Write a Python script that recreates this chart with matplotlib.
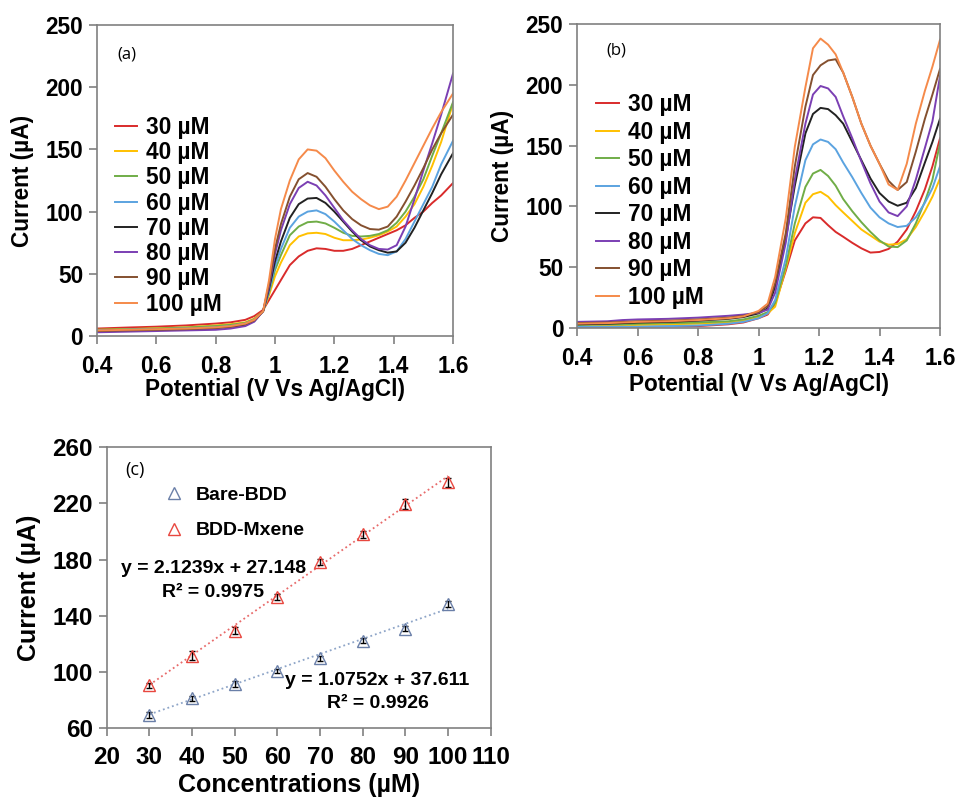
import numpy as np
import matplotlib
matplotlib.use('Agg')
import matplotlib.pyplot as plt

plt.rcParams['font.family'] = ['Liberation Sans', 'DejaVu Sans']
plt.rcParams['font.weight'] = 'bold'

# ---------- данные: панель (a) ----------
labels = ['30 µM', '40 µM', '50 µM', '60 µM', '70 µM', '80 µM', '90 µM', '100 µM']
colors = ['#d92b2b', '#ffc000', '#70ad47', '#5ba3e0', '#222222', '#7b3fb3', '#84502f', '#f58a4a']

xa = [0.40, 0.50, 0.60, 0.70, 0.80, 0.85, 0.90, 0.93, 0.96, 0.98, 1.00, 1.02, 1.05, 1.08, 1.11,
      1.14, 1.17, 1.20, 1.23, 1.26, 1.29, 1.32, 1.35, 1.38, 1.41, 1.44, 1.47, 1.50, 1.53, 1.56, 1.60]

a_30 = [6, 6.8, 7.5, 8.5, 10, 11, 13, 16, 21, 29, 37, 45, 57, 64, 68.5,
        70.5, 70, 68.5, 68.5, 70, 73, 76, 79, 82, 85, 89, 95, 100, 107, 113, 123]
a_40 = [5, 5.5, 6.2, 7, 8.5, 9.5, 11, 14, 20, 33, 48, 59, 73, 80, 82.5,
        83, 82, 79, 77, 77, 77.5, 79, 81, 84, 88, 96, 106, 120, 137, 156, 187]
a_50 = [5, 5.5, 6, 6.8, 8, 9, 10.5, 13.5, 20, 35, 53, 65, 81, 88, 91.5,
        92, 90.5, 87, 83, 80.5, 80, 80.5, 82, 85, 91, 100, 112, 126, 145, 163, 188]
a_60 = [4.5, 5, 5.5, 6, 7, 8, 10, 13, 20, 36, 56, 70, 87, 96, 100,
        101, 98, 92, 85, 78, 73, 69, 66, 65, 68, 78, 92, 106, 120, 138, 157]
a_70 = [4, 4.5, 5, 5.5, 6.5, 7.5, 9, 12, 20, 38, 60, 76, 95, 106, 110.5,
        111, 107, 100, 92, 84, 77, 72, 69, 67, 68, 75, 87, 101, 115, 130, 147]
a_80 = [3, 3.5, 4, 4.5, 5, 6, 8, 11.5, 20, 40, 66, 85, 106, 119, 124,
        121, 113, 103, 93, 85, 78, 73, 70, 69.5, 73, 88, 110, 133, 155, 178, 211]
a_90 = [4, 4.5, 5, 5.5, 6.5, 7.5, 9.5, 12.5, 20, 42, 70, 90, 112, 126, 131,
        128, 120, 110, 101, 94, 89, 86, 85.5, 88, 96, 108, 121, 135, 150, 163, 178]
a_100 = [4.5, 5, 5.5, 6, 7, 8, 10, 13, 20, 45, 78, 102, 125, 142, 150,
         149, 143, 133, 124, 116, 110, 105, 102, 104, 112, 125, 139, 153, 167, 180, 195]

# ---------- данные: панель (b) ----------
xb = [0.40, 0.50, 0.55, 0.60, 0.70, 0.80, 0.90, 0.95, 1.00, 1.03, 1.055, 1.09, 1.12, 1.155, 1.18,
      1.205, 1.23, 1.255, 1.28, 1.31, 1.34, 1.37, 1.40, 1.43, 1.46, 1.49, 1.52, 1.55, 1.575, 1.60]

b_30 = [1, 1, 1, 1, 1.2, 1.5, 3, 4.5, 8, 11, 20, 47, 72, 86, 91,
        90.5, 84.5, 79, 75, 70, 65.5, 62, 62.5, 65, 71, 81, 96, 114, 133, 156]
b_40 = [2, 2, 2, 2.5, 3, 3.5, 4.5, 6, 9, 12, 17.5, 49, 78, 103, 110,
        112, 108, 101, 95, 88, 81, 76, 71, 68.5, 69, 73, 83, 96, 108, 123]
b_50 = [2.5, 3, 3, 3.5, 4, 4.5, 5.5, 7, 10, 13, 20.5, 51, 86, 116, 127,
        130, 125, 117, 106, 96, 87, 79, 72, 67, 66.5, 72, 86, 104, 122, 152]
b_60 = [1, 1, 1, 1, 1.5, 2, 3.5, 5, 8, 12, 23, 57, 100, 138, 151,
        155, 153, 147, 136, 124, 111, 99, 91, 86, 83, 84, 91, 103, 115, 133]
b_70 = [3, 3.5, 4, 4.5, 5, 6, 7.5, 9, 12, 16, 34, 73, 117, 160, 176,
        181, 180, 175, 168, 153, 138, 123, 111, 104, 100.5, 103, 115, 136, 153, 172]
b_80 = [5, 5.5, 6.5, 7, 7.5, 8.5, 10, 11, 12.5, 15, 29, 70, 122, 168, 192,
        199, 197, 190, 174, 156, 137, 119, 104, 95, 92, 100, 122, 148, 170, 207]
b_90 = [4, 4.5, 5, 5.5, 6, 7, 8.5, 10, 13, 18, 37, 78, 133, 182, 208,
        216, 220, 221, 210, 190, 168, 150, 135, 121, 113.5, 120, 145, 172, 192, 213]
b_100 = [3.5, 4, 4.5, 5, 5.5, 6.5, 8, 9.5, 14, 20, 42, 90, 149, 198, 230,
         238, 233, 225, 210, 190, 168, 150, 135, 118, 113.5, 135, 168, 195, 215, 237]

# ---------- данные: панель (c) ----------
conc = [30, 40, 50, 60, 70, 80, 90, 100]
bare_bdd = [69.5, 81.3, 91.5, 101, 109.8, 122.4, 131, 148.5]
bare_err = [2, 2, 2, 1.5, 2, 2, 2, 2]
bdd_mxene = [90.5, 111.8, 129.5, 153.5, 178.5, 198, 219.8, 235]
mxene_err = [2, 3, 2.5, 2, 2, 2.5, 3.5, 3]
fit_bare = (1.0752, 37.611)
fit_mxene = (2.1239, 27.148)

SPINE = '#808080'


def style_axes(ax, fs, xpad):
    for s in ax.spines.values():
        s.set_color(SPINE)
        s.set_linewidth(1.2)
    ax.tick_params(direction='out', length=6, width=1.2, color=SPINE,
                   labelsize=fs, pad=4)
    ax.tick_params(axis='x', pad=xpad)
    for t in ax.get_xticklabels() + ax.get_yticklabels():
        t.set_fontweight('bold')


fig = plt.figure(figsize=(9.59, 7.97), dpi=100)

# ---------- (a) ----------
ax1 = fig.add_axes([0.1011, 0.5784, 0.3713, 0.3902])
for ys, c, lab in zip([a_30, a_40, a_50, a_60, a_70, a_80, a_90, a_100], colors, labels):
    ax1.plot(xa, ys, color=c, lw=1.4, label=lab)
ax1.set_xlim(0.4, 1.6)
ax1.set_ylim(0, 250)
ax1.set_xticks([0.4, 0.6, 0.8, 1.0, 1.2, 1.4, 1.6])
ax1.set_xticklabels(['0.4', '0.6', '0.8', '1', '1.2', '1.4', '1.6'])
ax1.set_yticks(range(0, 251, 50))
style_axes(ax1, 16.3, 8)
ax1.set_xlabel('Potential (V Vs Ag/AgCl)', fontsize=16.3, fontweight='bold', labelpad=0)
ax1.set_ylabel('Current (µA)', fontsize=16.3, fontweight='bold', labelpad=8)
ax1.text(0.5, 226, '(a)', fontsize=12, fontweight='normal', family='Open Sans',
         ha='center', va='center')
ax1.legend(loc='upper left', bbox_to_anchor=(0.05, 0.708), frameon=False,
           prop={'size': 16.3, 'weight': 'bold'}, handlelength=1.0,
           handletextpad=0.4, labelspacing=0.1, borderpad=0, borderaxespad=0)

# ---------- (b) ----------
ax2 = fig.add_axes([0.6017, 0.5885, 0.3785, 0.3814])
for ys, c, lab in zip([b_30, b_40, b_50, b_60, b_70, b_80, b_90, b_100], colors, labels):
    ax2.plot(xb, ys, color=c, lw=1.4, label=lab)
ax2.set_xlim(0.4, 1.6)
ax2.set_ylim(0, 250)
ax2.set_xticks([0.4, 0.6, 0.8, 1.0, 1.2, 1.4, 1.6])
ax2.set_xticklabels(['0.4', '0.6', '0.8', '1', '1.2', '1.4', '1.6'])
ax2.set_yticks(range(0, 251, 50))
style_axes(ax2, 16.3, 8)
ax2.set_xlabel('Potential (V Vs Ag/AgCl)', fontsize=16.3, fontweight='bold', labelpad=2)
ax2.set_ylabel('Current (µA)', fontsize=16.3, fontweight='bold', labelpad=8)
ax2.text(0.53, 228, '(b)', fontsize=12, fontweight='normal', family='Open Sans',
         ha='center', va='center')
ax2.legend(loc='upper left', bbox_to_anchor=(0.052, 0.773), frameon=False,
           prop={'size': 16.3, 'weight': 'bold'}, handlelength=1.0,
           handletextpad=0.4, labelspacing=0.2, borderpad=0, borderaxespad=0)

# ---------- (c) ----------
ax3 = fig.add_axes([0.1113, 0.0862, 0.4004, 0.3526])
xf = np.array([conc[0], conc[-1]])
ax3.plot(xf, fit_bare[0] * xf + fit_bare[1], ls=':', color='#8ea5c8', lw=1.3)
ax3.plot(xf, fit_mxene[0] * xf + fit_mxene[1], ls=':', color='#e86a6a', lw=1.3)
ax3.errorbar(conc, bare_bdd, yerr=bare_err, fmt='none', ecolor='black', elinewidth=1,
             capsize=2)
ax3.errorbar(conc, bdd_mxene, yerr=mxene_err, fmt='none', ecolor='black', elinewidth=1,
             capsize=2)
ax3.plot(conc, bare_bdd, ls='none', marker='^', ms=8, mfc='none', mec='#6a7fa8',
         mew=1.0, label='Bare-BDD')
ax3.plot(conc, bdd_mxene, ls='none', marker='^', ms=8, mfc='none', mec='#e8473f',
         mew=1.0, label='BDD-Mxene')
ax3.set_xlim(20, 110)
ax3.set_ylim(60, 260)
ax3.set_xticks(range(20, 111, 10))
ax3.set_yticks(range(60, 261, 40))
style_axes(ax3, 17.5, 7)
ax3.set_xlabel('Concentrations (µM)', fontsize=18, fontweight='bold', labelpad=2.5)
ax3.set_ylabel('Current (µA)', fontsize=18, fontweight='bold', labelpad=8)
ax3.text(26.7, 244, '(c)', fontsize=13, fontweight='normal', family='Open Sans',
         ha='center', va='center')
ax3.text(45, 174, 'y = 2.1239x + 27.148', fontsize=14, fontweight='bold',
         ha='center', va='center')
ax3.text(45, 156.3, 'R² = 0.9975', fontsize=14, fontweight='bold',
         ha='center', va='center')
ax3.text(83.3, 94, 'y = 1.0752x + 37.611', fontsize=14, fontweight='bold',
         ha='center', va='center')
ax3.text(83.5, 77.3, 'R² = 0.9926', fontsize=14, fontweight='bold',
         ha='center', va='center')
ax3.legend(loc='upper left', bbox_to_anchor=(0.151, 0.86), frameon=False,
           prop={'size': 14, 'weight': 'bold'}, handlelength=1.0,
           handletextpad=0.6, labelspacing=0.9, borderpad=0, borderaxespad=0)

fig.savefig('out.png', dpi=100)
